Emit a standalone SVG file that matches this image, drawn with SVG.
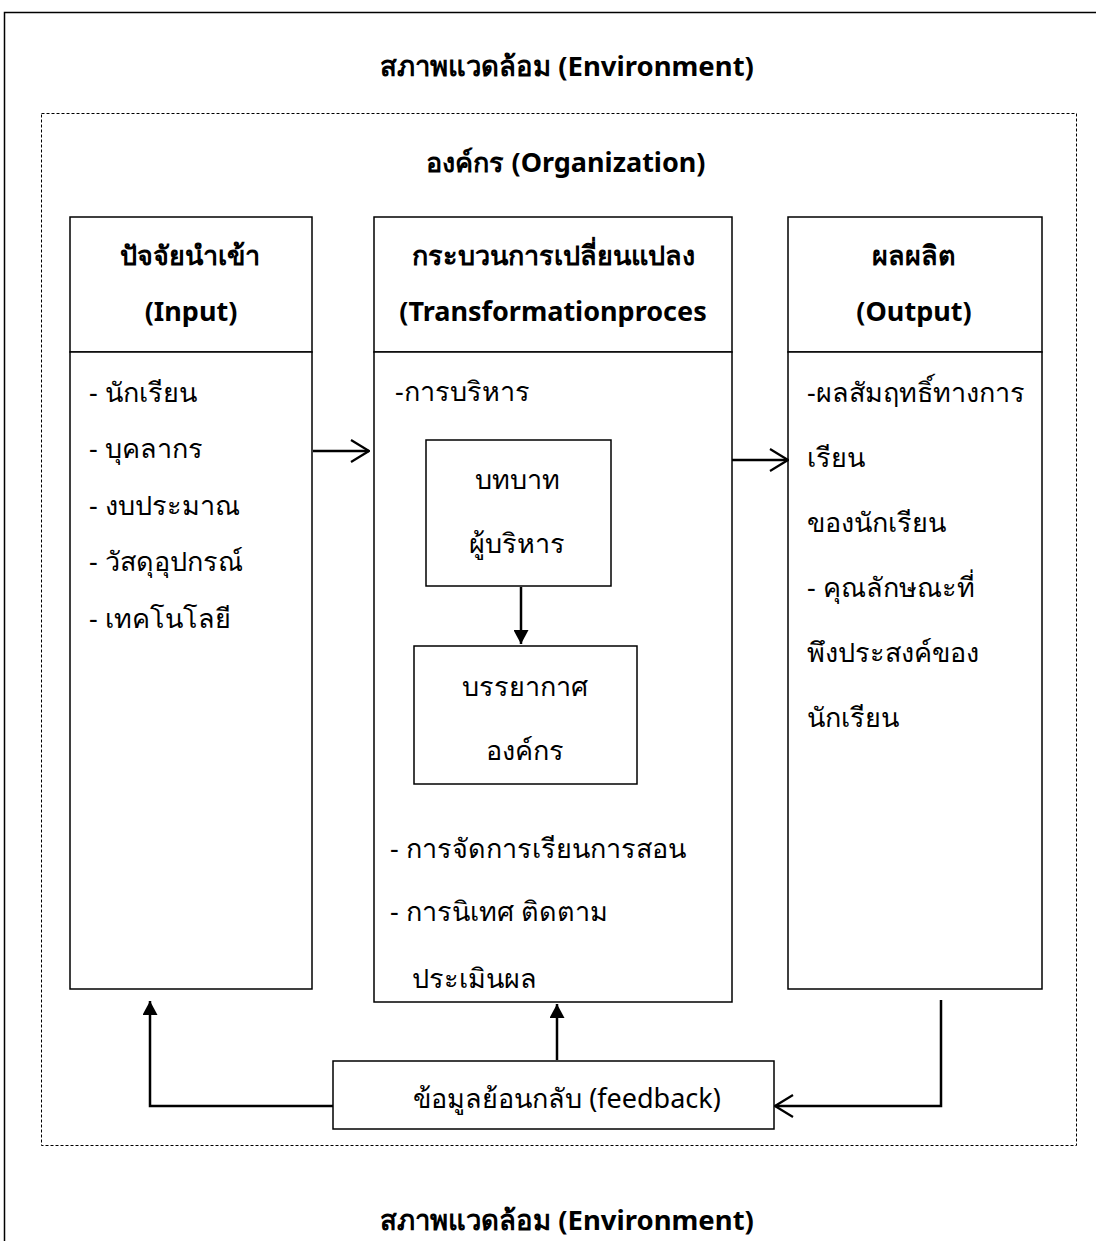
<svg xmlns="http://www.w3.org/2000/svg" width="1096" height="1241" viewBox="0 0 1096 1241">
<defs>
<style>
text{font-family:"Noto Sans","Liberation Sans",sans-serif;font-size:27px;fill:#000}
.b{font-weight:bold}
.m{text-anchor:middle}
.t{font-size:27.5px}
.box{fill:#fff;stroke:#000;stroke-width:1.5}
.ln{fill:none;stroke:#000;stroke-width:2.5}
</style>
<marker id="open" viewBox="0 0 20 24" refX="19" refY="12" markerWidth="20" markerHeight="24" markerUnits="userSpaceOnUse" orient="auto"><path d="M1,1 L19,12 L1,23" fill="none" stroke="#000" stroke-width="2.2"/></marker>
<marker id="fill" viewBox="0 0 14 15" refX="14" refY="7.5" markerWidth="14" markerHeight="15" markerUnits="userSpaceOnUse" orient="auto"><path d="M0,0 L14,7.5 L0,15 Z" fill="#000"/></marker>
</defs>
<rect width="1096" height="1241" fill="#fff"/>
<g id="environment">
<path d="M4.5,1241 V12.5 H1096" fill="none" stroke="#000" stroke-width="1.5"/>
<text class="b m t" x="567" y="76">สภาพแวดล้อม (Environment)</text>
<text class="b m t" x="567" y="1230">สภาพแวดล้อม (Environment)</text>
</g>
<g id="organization">
<rect x="41.5" y="113.5" width="1035" height="1032" fill="none" stroke="#000" stroke-width="1" stroke-dasharray="3,2"/>
<text class="b m" x="566" y="172">องค์กร (Organization)</text>
</g>
<g id="input">
<rect class="box" x="70" y="217" width="242" height="135"/>
<rect class="box" x="70" y="352" width="242" height="637"/>
<text class="b m" x="190" y="265">ปัจจัยนำเข้า</text>
<text class="b m" x="191" y="321">(Input)</text>
<text x="89" y="402">- นักเรียน</text>
<text x="89" y="458">- บุคลากร</text>
<text x="89" y="515">- งบประมาณ</text>
<text x="89" y="571">- วัสดุอุปกรณ์</text>
<text x="89" y="628">- เทคโนโลยี</text>
</g>
<g id="process">
<rect class="box" x="374" y="217" width="358" height="135"/>
<rect class="box" x="374" y="352" width="358" height="650"/>
<text class="b m" x="553" y="265">กระบวนการเปลี่ยนแปลง</text>
<text class="b m" x="553" y="321">(Transformationproces</text>
<text x="395" y="401">-การบริหาร</text>
<text x="390" y="858">- การจัดการเรียนการสอน</text>
<text x="390" y="921">- การนิเทศ ติดตาม</text>
<text x="412" y="988">ประเมินผล</text>
</g>
<g id="role">
<rect class="box" x="426" y="440" width="185" height="146"/>
<text class="m" x="517" y="489">บทบาท</text>
<text class="m" x="517" y="553">ผู้บริหาร</text>
</g>
<g id="climate">
<rect class="box" x="414" y="646" width="223" height="138"/>
<text class="m" x="525" y="696">บรรยากาศ</text>
<text class="m" x="525" y="760">องค์กร</text>
</g>
<g id="output">
<rect class="box" x="788" y="217" width="254" height="135"/>
<rect class="box" x="788" y="352" width="254" height="637"/>
<text class="b m" x="914" y="265">ผลผลิต</text>
<text class="b m" x="914" y="321">(Output)</text>
<text x="807" y="402">-ผลสัมฤทธิ์ทางการ</text>
<text x="807" y="467">เรียน</text>
<text x="807" y="532">ของนักเรียน</text>
<text x="807" y="597">- คุณลักษณะที่</text>
<text x="807" y="662">พึงประสงค์ของ</text>
<text x="807" y="727">นักเรียน</text>
</g>
<g id="feedback">
<rect class="box" x="333" y="1061" width="441" height="68"/>
<text class="m" x="567" y="1108">ข้อมูลย้อนกลับ (feedback)</text>
</g>
<g id="connectors">
<line class="ln" x1="313" y1="451" x2="369" y2="451" marker-end="url(#open)"/>
<line class="ln" x1="732" y1="460" x2="788" y2="460" marker-end="url(#open)"/>
<line class="ln" x1="521" y1="587" x2="521" y2="644" marker-end="url(#fill)"/>
<polyline class="ln" points="333,1106 150,1106 150,1001" marker-end="url(#fill)"/>
<line class="ln" x1="557" y1="1060" x2="557" y2="1004" marker-end="url(#fill)"/>
<polyline class="ln" points="941,1000 941,1106 775,1106" marker-end="url(#open)"/>
</g>
</svg>
